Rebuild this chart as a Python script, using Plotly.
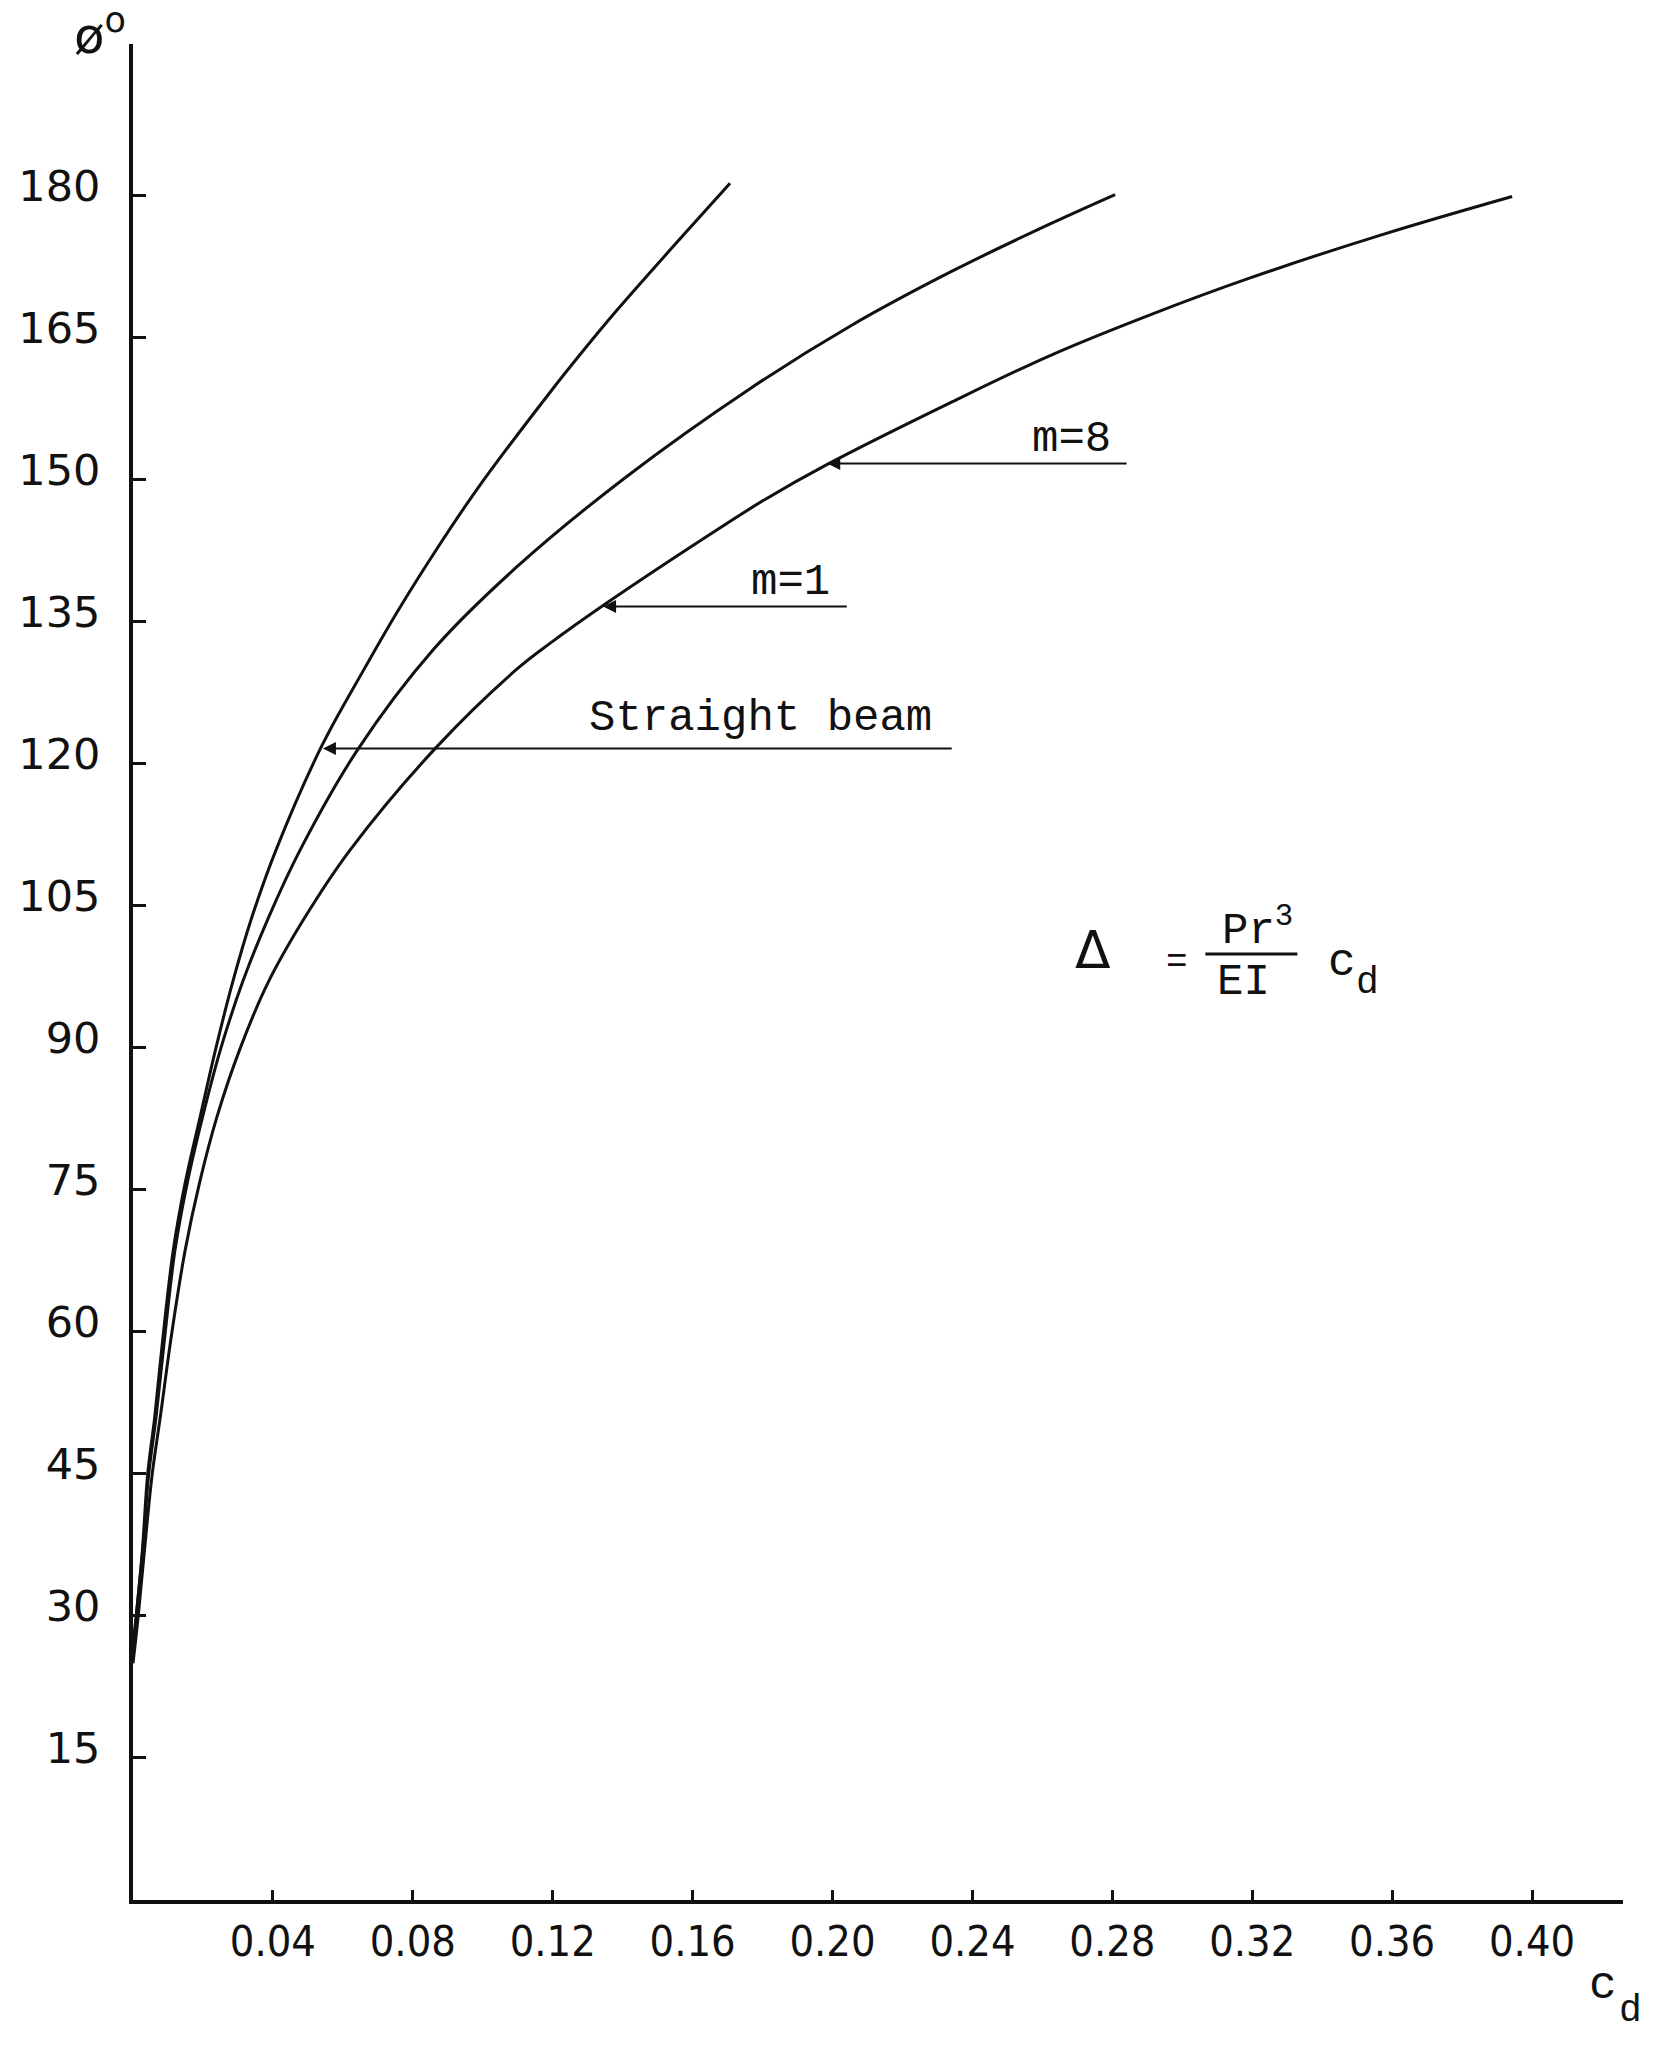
import plotly.graph_objects as go

# Avbøyningskurver, phi (grader) mot c_d
straight_x = [0.0, 0.0012, 0.0027, 0.0042, 0.0062, 0.0087, 0.0115, 0.0149, 0.0192, 0.0236,
              0.0284, 0.0340, 0.0409, 0.0540, 0.0658, 0.0755, 0.0869, 0.0984, 0.1192, 0.1287,
              0.1384, 0.1573, 0.1707]
straight_y = [27, 31, 37, 45, 51, 59.9, 68.6, 75.7, 82.7, 89.8,
              96.8, 103.8, 110.9, 121.9, 129.8, 136.0, 142.7, 149.0, 159.2, 163.6,
              167.9, 175.8, 181.3]

m1_x = [0.0, 0.0012, 0.0028, 0.0045, 0.0066, 0.0092, 0.0120, 0.0155, 0.0199, 0.0250,
        0.0312, 0.0388, 0.0478, 0.0641, 0.0860, 0.1098, 0.1407, 0.1764, 0.2050, 0.2336,
        0.2622, 0.2808]
m1_y = [26, 31, 37, 45, 51, 59.9, 68.6, 75.7, 82.7, 89.8,
        96.8, 103.8, 110.9, 121.4, 132.1, 140.8, 150.2, 159.6, 166.2, 171.9,
        177.0, 180.1]

m8_x = [0.0, 0.0015, 0.0033, 0.0055, 0.0078, 0.0111, 0.0149, 0.0190, 0.0240, 0.0305,
        0.0385, 0.0492, 0.0621, 0.0869, 0.1098, 0.1192, 0.1344, 0.1670, 0.1807, 0.1985,
        0.2336, 0.2622, 0.2908, 0.3194, 0.3574, 0.3943]
m8_y = [25, 30, 37, 45, 51, 59.9, 68.6, 75.7, 82.7, 89.8,
        96.8, 103.8, 110.9, 121.8, 130.0, 132.7, 136.7, 144.7, 147.9, 151.6,
        158.1, 163.1, 167.4, 171.3, 175.9, 179.9]

x_ticks = [0.04, 0.08, 0.12, 0.16, 0.20, 0.24, 0.28, 0.32, 0.36, 0.40]
x_labels = ["0.04", "0.08", "0.12", "0.16", "0.20", "0.24", "0.28", "0.32", "0.36", "0.40"]
y_ticks = [15, 30, 45, 60, 75, 90, 105, 120, 135, 150, 165, 180]
y_labels = ["15", "30", "45", "60", "75", "90", "105", "120", "135", "150", "165", "180"]

# etiketter med pil: tekst, pilspiss (x, y), linjeslutt x, tekstsenter (x, y)
labels = ["Straight beam", "m=1", "m=8"]
tip_x = [0.0543, 0.1344, 0.1985]
tip_y = [121.6, 136.6, 151.7]
end_x = [0.2345, 0.2045, 0.2845]
text_x = [0.1793, 0.1879, 0.2682]
text_y = [124.8, 139.2, 154.3]

ink = "#111111"
mono = "Liberation Mono, Courier New, monospace"

fig = go.Figure()
for xs, ys in [(straight_x, straight_y), (m1_x, m1_y), (m8_x, m8_y)]:
    fig.add_trace(go.Scatter(x=xs, y=ys, mode="lines", line=dict(color=ink, width=3, shape="spline", smoothing=1.0),
                             showlegend=False, hoverinfo="skip"))

for i in range(len(labels)):
    fig.add_annotation(x=tip_x[i], y=tip_y[i], ax=end_x[i], ay=tip_y[i], xref="x", yref="y", axref="x", ayref="y",
                       text="", showarrow=True, arrowhead=2, arrowsize=1.3, arrowwidth=2, arrowcolor=ink, standoff=0)
    fig.add_annotation(x=text_x[i], y=text_y[i], text=labels[i], showarrow=False,
                       font=dict(family=mono, size=44, color=ink))

# formel: Delta = Pr^3 / EI * c_d
fig.add_annotation(x=0.2745, y=100.3, text="Δ", showarrow=False, font=dict(family="DejaVu Sans", size=52, color=ink))
fig.add_annotation(x=0.2985, y=99.0, text="=", showarrow=False, font=dict(family=mono, size=36, color=ink))
fig.add_annotation(x=0.3214, y=99.5, text="Pr<sup>3</sup>", showarrow=False, yanchor="bottom",
                   font=dict(family=mono, size=44, color=ink))
fig.add_annotation(x=0.3174, y=96.9, text="EI", showarrow=False, font=dict(family=mono, size=44, color=ink))
fig.add_annotation(x=0.3457, y=98.9, text="c", showarrow=False, font=dict(family=mono, size=46, color=ink))
fig.add_annotation(x=0.3530, y=96.9, text="d", showarrow=False, font=dict(family=mono, size=38, color=ink))
fig.add_shape(type="line", x0=0.3066, x1=0.3329, y0=99.9, y1=99.9, xref="x", yref="y", line=dict(color=ink, width=3))

# aksetitler (utenfor plottet, i papirkoordinater)
fig.add_annotation(x=-0.0220, y=1.0060, xref="paper", yref="paper", xanchor="center", yanchor="middle",
                   text="ø<sup>o</sup>", showarrow=False, font=dict(family="DejaVu Sans", size=50, color=ink))
fig.add_annotation(x=0.9866, y=-0.0465, xref="paper", yref="paper", xanchor="center", yanchor="middle",
                   text="c", showarrow=False, font=dict(family=mono, size=46, color=ink))
fig.add_annotation(x=1.0047, y=-0.0593, xref="paper", yref="paper", xanchor="center", yanchor="middle",
                   text="d", showarrow=False, font=dict(family=mono, size=38, color=ink))

fig.update_xaxes(range=[0, 0.426], tickvals=x_ticks, ticktext=x_labels, ticks="inside", ticklen=10, tickwidth=3,
                 tickcolor=ink, showline=True, linecolor=ink, linewidth=4, showgrid=False, zeroline=False,
                 ticklabelstandoff=0, tickfont=dict(family="DejaVu Sans Condensed, Liberation Sans Narrow, DejaVu Sans",
                                                    size=43, color=ink))
fig.update_yaxes(range=[0, 196], tickvals=y_ticks, ticktext=y_labels, ticks="inside", ticklen=13, tickwidth=3,
                 tickcolor=ink, showline=True, linecolor=ink, linewidth=4, showgrid=False, zeroline=False,
                 ticklabelstandoff=20, ticklabelshift=-10, tickfont=dict(family="DejaVu Sans", size=43, color=ink))
fig.update_layout(width=1661, height=2052, autosize=False, plot_bgcolor="white", paper_bgcolor="white",
                  margin=dict(l=133, r=38, t=44, b=152))

fig.write_html("out.html", config={"displayModeBar": False}, post_script="document.body.style.margin='0';")
